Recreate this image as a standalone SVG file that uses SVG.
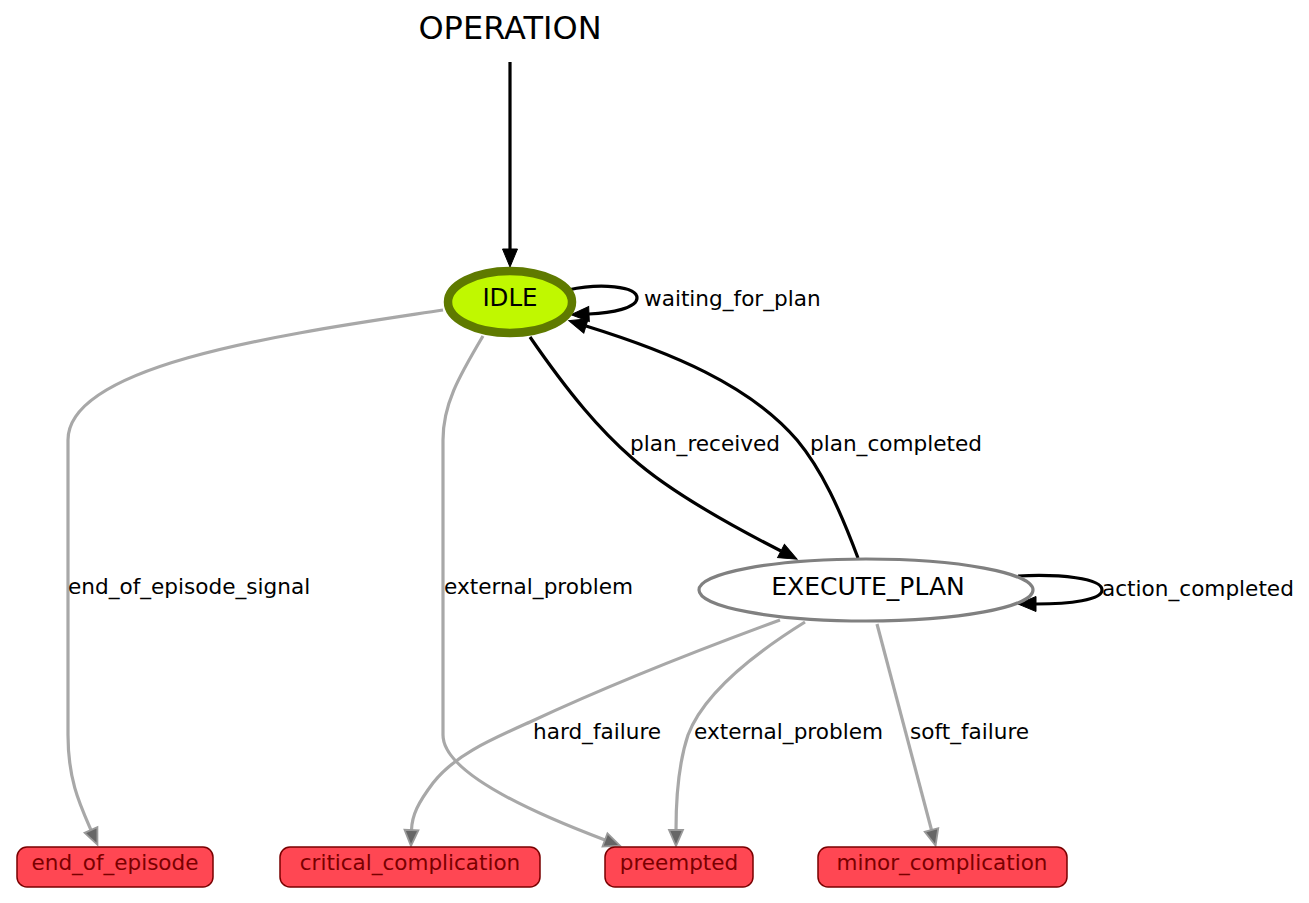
<svg xmlns="http://www.w3.org/2000/svg" width="1309" height="903" viewBox="0 0 1309 903">
<style>
text{font-family:"DejaVu Sans","Liberation Sans",sans-serif;fill:#000}
.el{font-size:21.6px}
.blk{fill:none;stroke:#000;stroke-width:3.2}
.gry{fill:none;stroke:#a8a8a8;stroke-width:3.2}
.term rect{fill:#ff4753;stroke:#7a0000;stroke-width:1.5}
.term text{font-size:21.5px;fill:#7a0000;text-anchor:middle}
</style>
<defs>
<marker id="ab" markerUnits="userSpaceOnUse" markerWidth="20" markerHeight="16" refX="0" refY="7.5" orient="auto" overflow="visible">
<path d="M0,0 L18,7.5 L0,15 z" fill="#000" stroke="#000" stroke-width="1"/>
</marker>
<marker id="ag" markerUnits="userSpaceOnUse" markerWidth="18" markerHeight="16" refX="0" refY="7" orient="auto" overflow="visible">
<path d="M0,0 L16,7 L0,14 z" fill="#666" stroke="#9a9a9a" stroke-width="1.8"/>
</marker>
</defs>
<rect width="1309" height="903" fill="#fff"/>
<g id="connectors">
<path class="blk" d="M510,62 L510,249" marker-end="url(#ab)"/>
<path class="blk" d="M568,290 C600,283 637,286 637,298 C637,308 612,313 589,314" marker-end="url(#ab)"/>
<path class="blk" d="M530,337 C570,395 600,430 632,458 C670,492 730,525 781,551" marker-end="url(#ab)"/>
<path class="blk" d="M858,558 C840,510 822,470 797,440 C750,385 670,352 586,326" marker-end="url(#ab)"/>
<path class="blk" d="M1018,576 C1060,574 1102,578 1102,590 C1102,600 1070,604 1036,604" marker-end="url(#ab)"/>
<path class="gry" d="M443,310 C300,332 68,362 68,440 L68,735 C68,780 80,805 91,830" marker-end="url(#ag)"/>
<path class="gry" d="M483,336 C458,378 443,405 443,440 L443,735 C443,770 520,808 605,840" marker-end="url(#ag)"/>
<path class="gry" d="M780,620 C720,642 620,680 530,722 C490,740 455,755 433,783 C418,803 412,815 411.5,830" marker-end="url(#ag)"/>
<path class="gry" d="M805,622 C760,650 705,690 688,735 C678,765 676,800 676,830" marker-end="url(#ag)"/>
<path class="gry" d="M877,624 L931.5,830" marker-end="url(#ag)"/>
<text class="el" x="644" y="306">waiting_for_plan</text>
<text class="el" x="630" y="451">plan_received</text>
<text class="el" x="810" y="451">plan_completed</text>
<text class="el" x="1102" y="596">action_completed</text>
<text class="el" x="68" y="594">end_of_episode_signal</text>
<text class="el" x="444" y="594">external_problem</text>
<text class="el" x="533" y="739">hard_failure</text>
<text class="el" x="694" y="739">external_problem</text>
<text class="el" x="910" y="739">soft_failure</text>
</g>
<g id="OPERATION">
<text x="510" y="39" font-size="32" text-anchor="middle">OPERATION</text>
</g>
<g id="IDLE">
<ellipse cx="510" cy="302" rx="62" ry="31" fill="#c0f800" stroke="#5f7a00" stroke-width="8.5"/>
<text x="510" y="306" font-size="24.5" text-anchor="middle">IDLE</text>
</g>
<g id="EXECUTE_PLAN">
<ellipse cx="866" cy="590" rx="167" ry="31" fill="#fff" stroke="#808080" stroke-width="3.2"/>
<text x="868" y="595" font-size="25" text-anchor="middle">EXECUTE_PLAN</text>
</g>
<g id="end_of_episode" class="term">
<rect x="17" y="847" width="196" height="40" rx="10"/>
<text x="115" y="870">end_of_episode</text>
</g>
<g id="critical_complication" class="term">
<rect x="280" y="847" width="260" height="40" rx="10"/>
<text x="410" y="870">critical_complication</text>
</g>
<g id="preempted" class="term">
<rect x="605" y="847" width="148" height="40" rx="10"/>
<text x="679" y="870">preempted</text>
</g>
<g id="minor_complication" class="term">
<rect x="818" y="847" width="249" height="40" rx="10"/>
<text x="942" y="870">minor_complication</text>
</g>
</svg>
